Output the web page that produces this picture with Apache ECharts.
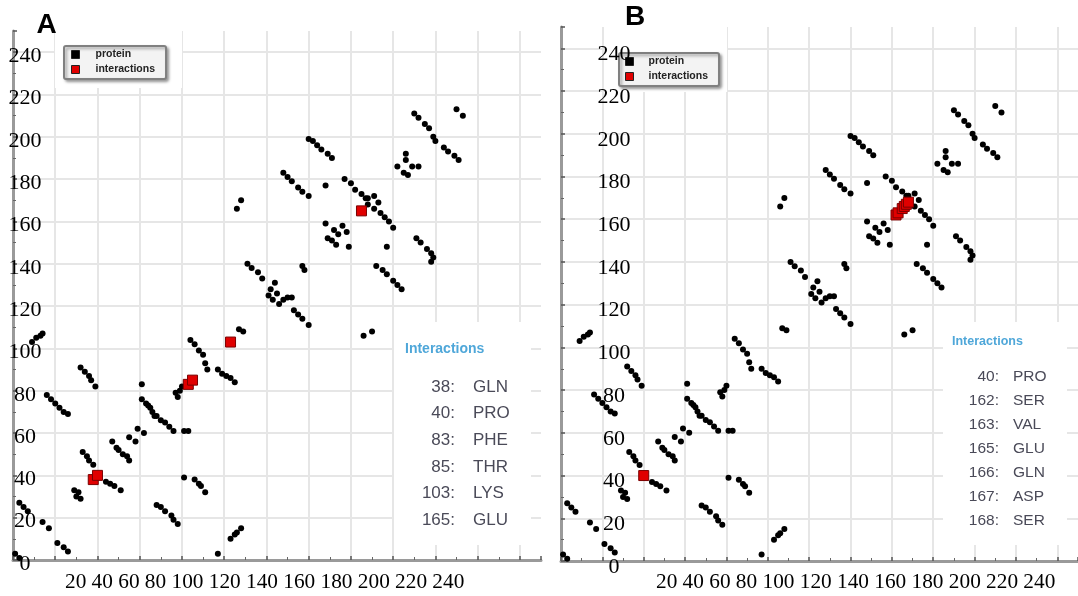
<!DOCTYPE html>
<html>
<head>
<meta charset="utf-8">
<script src="https://cdn.jsdelivr.net/npm/echarts@6/dist/echarts.min.js"></script>
<style>
html, body { margin: 0; padding: 0; background: #fff; }
#chart { width: 1078px; height: 596px; }
</style>
</head>
<body>
<div id="chart"></div>
<script>
// tick labels written under each panel
var xTicks = ['20', '40', '60', '80', '100', '120', '140', '160', '180', '200', '220', '240'];

// protein contacts (residue i, residue j)
var protein = [
  [1, 3], [3, 1],
  [3, 27], [5, 25], [7, 23],
  [14, 18], [17, 15],
  [21, 8], [24, 6], [26, 4],
  [16, 78], [18, 76], [20, 74], [22, 72], [24, 70], [26, 69],
  [9, 103], [11, 105], [13, 106], [14, 107],
  [32, 91], [34, 89], [36, 87], [37, 85], [39, 82],
  [33, 51], [35, 49], [36, 47], [38, 45],
  [44, 37], [46, 36], [48, 35], [51, 33],
  [29, 33], [31, 32], [30, 30], [32, 29],
  [47, 56], [49, 53], [50, 52], [52, 50], [54, 49], [55, 47],
  [55, 58], [58, 56], [59, 62], [62, 60],
  [61, 83],
  [61, 76], [63, 74], [65, 72], [66, 70], [68, 68], [70, 66], [72, 65], [74, 63], [76, 61], [64, 73], [67, 68],
  [81, 61], [83, 61],
  [68, 26], [70, 25], [72, 23], [75, 21], [76, 19], [78, 17],
  [81, 39], [86, 38], [88, 36], [89, 35], [91, 32],
  [97, 3],
  [103, 10], [105, 12], [106, 13], [108, 15],
  [77, 79], [78, 77], [80, 82], [79, 80],
  [84, 104], [86, 102], [88, 99], [90, 97], [91, 93], [92, 90],
  [97, 90], [99, 88], [101, 87], [103, 86], [105, 84],
  [107, 109], [109, 108],
  [111, 140], [113, 138], [116, 136], [118, 133],
  [124, 131], [122, 128], [121, 125], [123, 123], [125, 126], [128, 123], [126, 121], [130, 124], [132, 124],
  [133, 118], [135, 116], [137, 114], [140, 111],
  [137, 139], [138, 137],
  [128, 183], [130, 181], [132, 179], [135, 176], [137, 174], [140, 172],
  [108, 170], [106, 166],
  [140, 199], [142, 198], [144, 196], [146, 194], [149, 192], [151, 190],
  [148, 177],
  [157, 180], [160, 178], [162, 175], [165, 173], [167, 171],
  [168, 171], [171, 172], [173, 169], [171, 166], [168, 168],
  [174, 164], [176, 162], [178, 160], [180, 157],
  [148, 159], [152, 156], [149, 152], [151, 151], [153, 149], [154, 154], [156, 158], [158, 155], [159, 148],
  [177, 148],
  [172, 139], [175, 137], [177, 135], [180, 132], [182, 130], [184, 128],
  [191, 152], [193, 150], [196, 147], [198, 145], [199, 143], [198, 141],
  [166, 106], [170, 108],
  [186, 192], [186, 189], [182, 186], [185, 183], [187, 182], [189, 186], [192, 186],
  [190, 211], [192, 209], [195, 206], [197, 204], [199, 200], [200, 198], [204, 195], [206, 193], [209, 191], [211, 189],
  [210, 213], [213, 210]
];

// interacting residues of each panel
var residuesA = [38, 40, 83, 85, 103, 165];
var namesA = ['GLN', 'PRO', 'PHE', 'THR', 'LYS', 'GLU'];
var residuesB = [40, 162, 163, 165, 166, 167, 168];
var namesB = ['PRO', 'SER', 'VAL', 'GLU', 'GLN', 'ASP', 'SER'];

var myChart = echarts.init(document.getElementById('chart'));

var serif = '"Liberation Serif", "Times New Roman", serif';
var sans = '"Liberation Sans", Arial, sans-serif';

//主坐标轴: grid lines, axis line and ticks
var mainAxis = function(gridIndex) {
  return {
    gridIndex: gridIndex,
    type: 'value',
    min: 0,
    max: 250,
    interval: 20,
    axisLine: { show: true, lineStyle: { color: '#9a9a9a', width: 3 } },
    axisTick: { show: true, inside: true, length: 4, lineStyle: { color: '#555', width: 1.5 } },
    minorTick: { show: true, splitNumber: 2, length: 3, lineStyle: { color: '#666', width: 1 } },
    axisLabel: { show: false },
    splitLine: { show: true, showMaxLine: false, lineStyle: { color: '#e6e6e6', width: 2 } }
  };
};

// label-only y axis, drawn on top of legend and points, a little below the grid lines
var labelAxis = function(gridIndex, margin, shift) {
  return {
    gridIndex: gridIndex,
    type: 'value',
    position: 'left',
    min: 0,
    max: 250,
    interval: 20,
    z: 10,
    axisLine: { show: false },
    axisTick: { show: false },
    splitLine: { show: false },
    axisLabel: {
      show: true,
      showMaxLabel: false,
      margin: margin,
      align: 'center',
      formatter: '{t|{value}}',
      rich: {
        t: { padding: [shift, 0, 0, 0], fontFamily: serif, fontSize: 22, color: '#000' }
      }
    }
  };
};

var legendOf = function(left, top, padLeft, textPad) {
  return {
    left: left,
    top: top,
    orient: 'vertical',
    data: ['protein', 'interactions'],
    icon: 'rect',
    itemWidth: 8,
    itemHeight: 8,
    itemGap: 4,
    padding: [3, 11, 4, padLeft],
    backgroundColor: '#f3f3f3',
    borderColor: '#808080',
    borderWidth: 2,
    borderRadius: 2,
    shadowColor: 'rgba(0,0,0,0.35)',
    shadowBlur: 3,
    shadowOffsetX: 2,
    shadowOffsetY: 2,
    selectedMode: false,
    z: 6,
    itemStyle: { borderColor: '#222', borderWidth: 1 },
    textStyle: { fontFamily: sans, fontWeight: 'bold', fontSize: 10.5, color: '#222', padding: [0, 0, 0, textPad] }
  };
};

// interactions list as text elements
var listOf = function(residues, names, o) {
  var els = [{
    type: 'text', x: o.titleX, y: o.titleY, z: 5,
    style: { text: 'Interactions', fontFamily: sans, fontWeight: 'bold', fontSize: o.titleSize, fill: '#4fa7d9', align: 'left', verticalAlign: 'middle' }
  }];
  for (var i = 0; i < residues.length; i++) {
    els.push({
      type: 'text', x: o.numX, y: o.rowY + i * o.rowGap, z: 5,
      style: { text: residues[i] + ':', fontFamily: sans, fontSize: o.size, fill: '#4a4a58', align: 'right', verticalAlign: 'middle' }
    });
    els.push({
      type: 'text', x: o.nameX, y: o.rowY + i * o.rowGap, z: 5,
      style: { text: names[i], fontFamily: sans, fontSize: o.size, fill: '#4a4a58', align: 'left', verticalAlign: 'middle' }
    });
  }
  return els;
};

var whiteRect = function(x, y, w, h) {
  return { type: 'rect', z: 1, shape: { x: x, y: y, width: w, height: h }, style: { fill: '#fff' } };
};

var tickText = function(x) {
  return {
    type: 'text', x: x, y: 582, z: 5,
    style: { text: xTicks.join(' '), fontFamily: serif, fontSize: 21.3, fill: '#000', align: 'left', verticalAlign: 'middle' }
  };
};

var graphics = [
  whiteRect(55, 30, 127, 58),
  whiteRect(606, 27, 121, 65),
  whiteRect(394, 322, 137, 223),
  whiteRect(943, 322, 124, 223),
  tickText(65),
  tickText(656),
  { type: 'text', x: 46.5, y: 25, z: 5, style: { text: 'A', fontFamily: sans, fontWeight: 'bold', fontSize: 28, fill: '#000', align: 'center', verticalAlign: 'middle' } },
  { type: 'text', x: 635, y: 17, z: 5, style: { text: 'B', fontFamily: sans, fontWeight: 'bold', fontSize: 28, fill: '#000', align: 'center', verticalAlign: 'middle' } }
].concat(
  listOf(residuesA, namesA, { titleX: 405, titleY: 349, titleSize: 14, numX: 455, nameX: 473, rowY: 387, rowGap: 26.7, size: 17 }),
  listOf(residuesB, namesB, { titleX: 952, titleY: 342, titleSize: 12.5, numX: 999, nameX: 1013, rowY: 377, rowGap: 24, size: 15.5 })
);

var diag = function(list) {
  return list.map(function(r) { return [r, r]; });
};

var dotStyle = { color: '#000', opacity: 1 };
var boxStyle = { color: '#e00000', borderColor: '#7a0000', borderWidth: 1, opacity: 1 };

var option = {
  animation: false,
  backgroundColor: '#fff',
  grid: [
    { left: 13, top: 31, width: 528, height: 529 },
    { left: 561, top: 27, width: 528, height: 534 }
  ],
  xAxis: [mainAxis(0), mainAxis(1)],
  yAxis: [mainAxis(0), labelAxis(0, -12, 8), mainAxis(1), labelAxis(1, -53, 12)],
  legend: [legendOf(64, 46, 7, 11), legendOf(619, 53, 6, 10)],
  graphic: graphics,
  series: [
    { type: 'scatter', name: 'protein', xAxisIndex: 0, yAxisIndex: 0, data: protein, symbolSize: 6, itemStyle: dotStyle, z: 2 },
    { type: 'scatter', name: 'interactions', xAxisIndex: 0, yAxisIndex: 0, data: diag(residuesA), symbol: 'rect', symbolSize: 10, itemStyle: boxStyle, z: 3 },
    { type: 'scatter', name: 'protein', xAxisIndex: 1, yAxisIndex: 2, data: protein, symbolSize: 6, itemStyle: dotStyle, z: 2 },
    { type: 'scatter', name: 'interactions', xAxisIndex: 1, yAxisIndex: 2, data: diag(residuesB), symbol: 'rect', symbolSize: 10, itemStyle: boxStyle, z: 3 }
  ]
};

myChart.setOption(option);
</script>
</body>
</html>
